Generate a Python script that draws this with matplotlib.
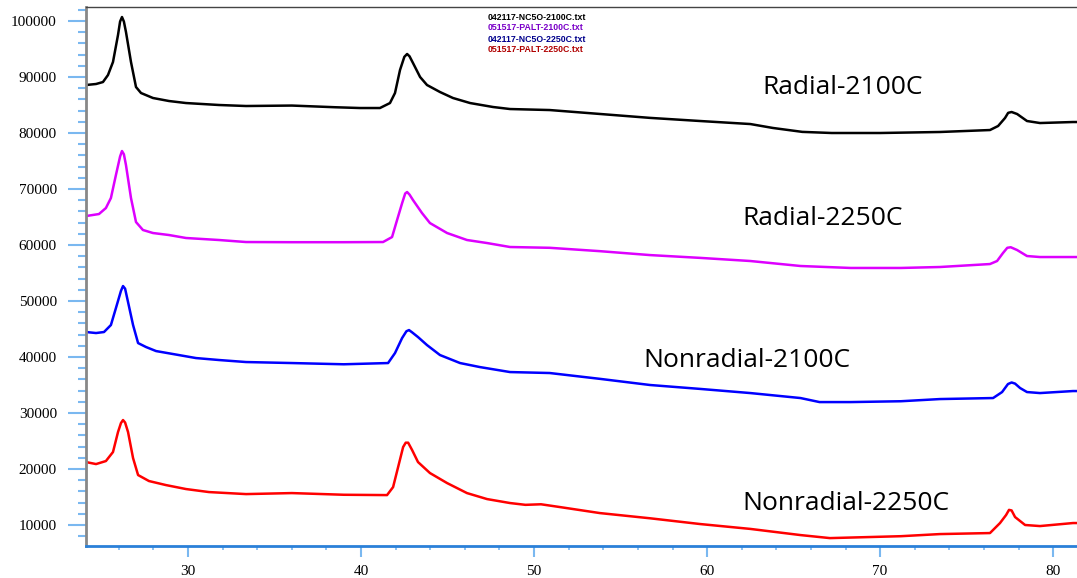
import matplotlib
matplotlib.use('Agg')
import numpy as np
from matplotlib import pyplot as plt
from matplotlib.ticker import MultipleLocator

# 2-theta positions and intensities
tt_2100r = [24.10, 24.68, 25.08, 25.37, 25.66, 25.95, 26.07, 26.18, 26.29, 26.41, 26.70, 26.99, 27.28, 27.97,
            28.90, 29.88, 31.79, 33.35, 36.0, 38.5, 39.94, 41.09, 41.67, 41.96, 42.25, 42.50, 42.66, 42.80,
            43.00, 43.41, 43.81, 44.56, 45.31, 46.30, 47.63, 48.61, 50.9, 53.8, 56.7, 59.6, 62.5, 63.8,
            65.5, 67.2, 70.0, 73.46, 76.35, 76.82, 77.22, 77.40, 77.60, 77.92, 78.49, 79.24, 81.15, 81.38]
i_2100r = [88570, 88750, 89100, 90350, 92680, 97500, 99900, 100710, 99900, 98040, 92680, 88210, 87140, 86250,
           85710, 85350, 85000, 84820, 84900, 84600, 84460, 84460, 85350, 87140, 91250, 93600, 94110, 93700,
           92500, 90000, 88570, 87320, 86250, 85350, 84640, 84280, 84100, 83400, 82700, 82140, 81600, 80900,
           80200, 80000, 80000, 80180, 80530, 81250, 82680, 83600, 83750, 83390, 82140, 81780, 81960, 81960]

tt_2250r = [24.10, 24.85, 25.25, 25.54, 25.83, 26.07, 26.18, 26.29, 26.41, 26.70, 26.99, 27.39, 27.97, 28.90,
            29.88, 31.79, 33.35, 36.0, 39.0, 41.27, 41.79, 42.08, 42.37, 42.55, 42.66, 42.80, 43.00, 43.52,
            43.98, 44.97, 46.12, 47.28, 48.61, 50.9, 53.8, 56.7, 59.6, 62.5, 65.4, 68.3, 71.2, 73.46,
            76.35, 76.76, 77.10, 77.35, 77.55, 77.92, 78.49, 79.24, 81.15, 81.38]
i_2250r = [65170, 65530, 66600, 68390, 72500, 75800, 76780, 76200, 74280, 68390, 64100, 62680, 62140, 61780,
           61250, 60890, 60530, 60500, 60500, 60530, 61420, 64460, 67460, 69200, 69460, 69000, 68030, 65710,
           63920, 62140, 60890, 60350, 59640, 59500, 58900, 58200, 57700, 57140, 56250, 55900, 55900, 56070,
           56600, 57140, 58560, 59500, 59600, 59100, 58030, 57850, 57850, 57850]

tt_2100n = [24.10, 24.68, 25.14, 25.54, 25.83, 26.12, 26.24, 26.36, 26.53, 26.82, 27.11, 27.57, 28.15, 29.13,
            30.46, 31.79, 33.35, 36.0, 39.0, 41.56, 41.96, 42.37, 42.62, 42.77, 42.95, 43.29, 43.81, 44.56,
            45.72, 46.87, 48.61, 50.9, 53.8, 56.7, 59.6, 62.5, 65.4, 66.5, 68.3, 71.2, 73.46, 76.53,
            77.05, 77.39, 77.60, 77.80, 78.09, 78.49, 79.24, 81.15, 81.38]
i_2100n = [44460, 44280, 44460, 45710, 48740, 51800, 52670, 52200, 49810, 45710, 42490, 41780, 41060, 40530,
           39810, 39460, 39100, 38920, 38700, 38920, 40700, 43380, 44600, 44810, 44400, 43560, 42130, 40350,
           38920, 38200, 37310, 37140, 36100, 35000, 34300, 33560, 32670, 31950, 31950, 32100, 32490, 32670,
           33740, 35170, 35450, 35250, 34460, 33740, 33560, 33920, 33920]

tt_2250n = [24.10, 24.68, 25.25, 25.66, 25.95, 26.12, 26.24, 26.36, 26.53, 26.82, 27.11, 27.74, 28.72, 29.88,
            31.21, 33.35, 36.0, 39.0, 41.50, 41.85, 42.14, 42.43, 42.58, 42.72, 42.95, 43.29, 43.98, 44.97,
            46.12, 47.28, 48.61, 49.5, 50.4, 51.5, 53.8, 56.7, 59.6, 62.5, 65.4, 67.1, 69.4, 71.2,
            73.46, 76.35, 76.93, 77.28, 77.45, 77.60, 77.80, 78.38, 79.24, 81.15, 81.38]
i_2250n = [21240, 20880, 21420, 23030, 26600, 28200, 28740, 28300, 26600, 21950, 18920, 17850, 17130, 16420,
           15880, 15520, 15700, 15400, 15340, 16770, 20340, 23920, 24700, 24700, 23380, 21240, 19280, 17490,
           15700, 14630, 13920, 13600, 13700, 13200, 12130, 11200, 10170, 9300, 8200, 7660, 7850, 8000,
           8380, 8560, 10350, 11780, 12700, 12600, 11420, 10000, 9810, 10350, 10350]

curve_labels = ['Radial-2100C', 'Radial-2250C', 'Nonradial-2100C', 'Nonradial-2250C']
file_names = ['042117-NC5O-2100C.txt', '051517-PALT-2100C.txt',
              '042117-NC5O-2250C.txt', '051517-PALT-2250C.txt']
file_colors = ['#000000', '#7a00c8', '#00008c', '#b00000']

fig = plt.figure(figsize=(10.77, 5.78), dpi=100)
ax = fig.add_axes([86 / 1077, 32 / 578, 991 / 1077, 539 / 578])

ax.plot(tt_2100r, i_2100r, color='black', lw=1.8)
ax.plot(tt_2250r, i_2250r, color='#dd00ff', lw=1.8)
ax.plot(tt_2100n, i_2100n, color='#0000ff', lw=1.8)
ax.plot(tt_2250n, i_2250n, color='#ff0000', lw=1.8)

txt = dict(fontsize=19, family='Open Sans', va='center', ha='left')
ax.text(63.18, 88200, curve_labels[0], **txt)
ax.text(62.02, 64800, curve_labels[1], **txt)
ax.text(56.30, 39450, curve_labels[2], **txt)
ax.text(62.02, 13900, curve_labels[3], **txt)

for k in range(4):
    fig.text(488 / 1077, 1 - (17 + 11 * k) / 578, file_names[k], color=file_colors[k],
             fontsize=6.3, fontweight='bold', va='center', ha='left', family='Liberation Sans')

ax.set_xlim(24.1, 81.38)
ax.set_ylim(6250, 102500)

ax.xaxis.set_major_locator(MultipleLocator(10))
ax.xaxis.set_minor_locator(MultipleLocator(2))
ax.yaxis.set_major_locator(MultipleLocator(10000))
ax.yaxis.set_minor_locator(MultipleLocator(2000))

ax.spines['right'].set_visible(False)
ax.spines['top'].set_color('#444444')
ax.spines['top'].set_linewidth(1)
ax.spines['left'].set_color('#888888')
ax.spines['left'].set_linewidth(2)
ax.spines['bottom'].set_color('#2a80d8')
ax.spines['bottom'].set_linewidth(2)

tick_col = '#7ab8f0'
ax.tick_params(axis='y', which='major', length=13, width=1.5, color=tick_col, pad=8,
               labelsize=11, labelfontfamily='Liberation Serif')
ax.tick_params(axis='y', which='minor', length=6, width=1.5, color=tick_col)
ax.tick_params(axis='x', which='major', length=8, width=1.5, color=tick_col, pad=6,
               labelsize=11, labelfontfamily='Liberation Serif')
ax.tick_params(axis='x', which='minor', length=3, width=1.2, color=tick_col)

fig.savefig('out.png', dpi=100)
